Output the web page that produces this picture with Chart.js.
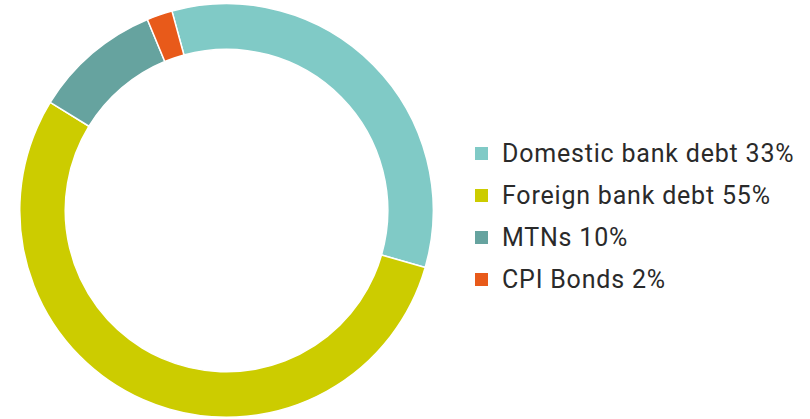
<!DOCTYPE html>
<html>
<head>
<meta charset="utf-8">
<script src="https://cdn.jsdelivr.net/npm/chart.js@4.4.0/dist/chart.umd.min.js"></script>
<style>
  html, body { margin: 0; padding: 0; background: #fff; }
  body { width: 810px; height: 419px; position: relative; overflow: hidden; font-family: Roboto, "Noto Sans", sans-serif; }
  #donut-wrap { position: absolute; left: 19px; top: 3px; width: 415px; height: 415px; }
  #legend { position: absolute; left: 475px; top: 138px; margin: 0; padding: 0; list-style: none; }
  #legend li { height: 42px; line-height: 32px; font-size: 25px; letter-spacing: 0.8px; color: #2a2a2a; white-space: nowrap; }
  #legend .box { display: inline-block; width: 13px; height: 13px; margin-right: 14px; vertical-align: 2px; }
</style>
</head>
<body>
<div id="donut-wrap"><canvas id="debtChart"></canvas></div>
<ul id="legend"></ul>
<script>
const categories = ['Domestic bank debt', 'Foreign bank debt', 'MTNs', 'CPI Bonds'];
// printed in the legend
const legendPct = [33, 55, 10, 2];
// slice sizes as measured from the arc angles in the picture
const sliceValues = [33.7, 54.3, 10, 2];
const colours = ['#80cac6', '#cccc00', '#66a39f', '#e85a1a'];

const legend = document.getElementById('legend');
categories.forEach((name, i) => {
  const li = document.createElement('li');
  li.innerHTML = `<span class="box" style="background:${colours[i]}"></span>${name} ${legendPct[i]}%`;
  legend.appendChild(li);
});

new Chart(document.getElementById('debtChart'), {
  type: 'doughnut',
  data: {
    labels: categories,
    datasets: [{
      data: sliceValues,
      backgroundColor: colours,
      borderColor: '#ffffff',
      borderWidth: 1.5,
      hoverOffset: 0
    }]
  },
  options: {
    responsive: true,
    maintainAspectRatio: false,
    animation: false,
    cutout: '78%',
    rotation: -15.3,
    layout: { padding: 0 },
    plugins: {
      legend: { display: false },
      tooltip: { enabled: false }
    }
  }
});
</script>
</body>
</html>
